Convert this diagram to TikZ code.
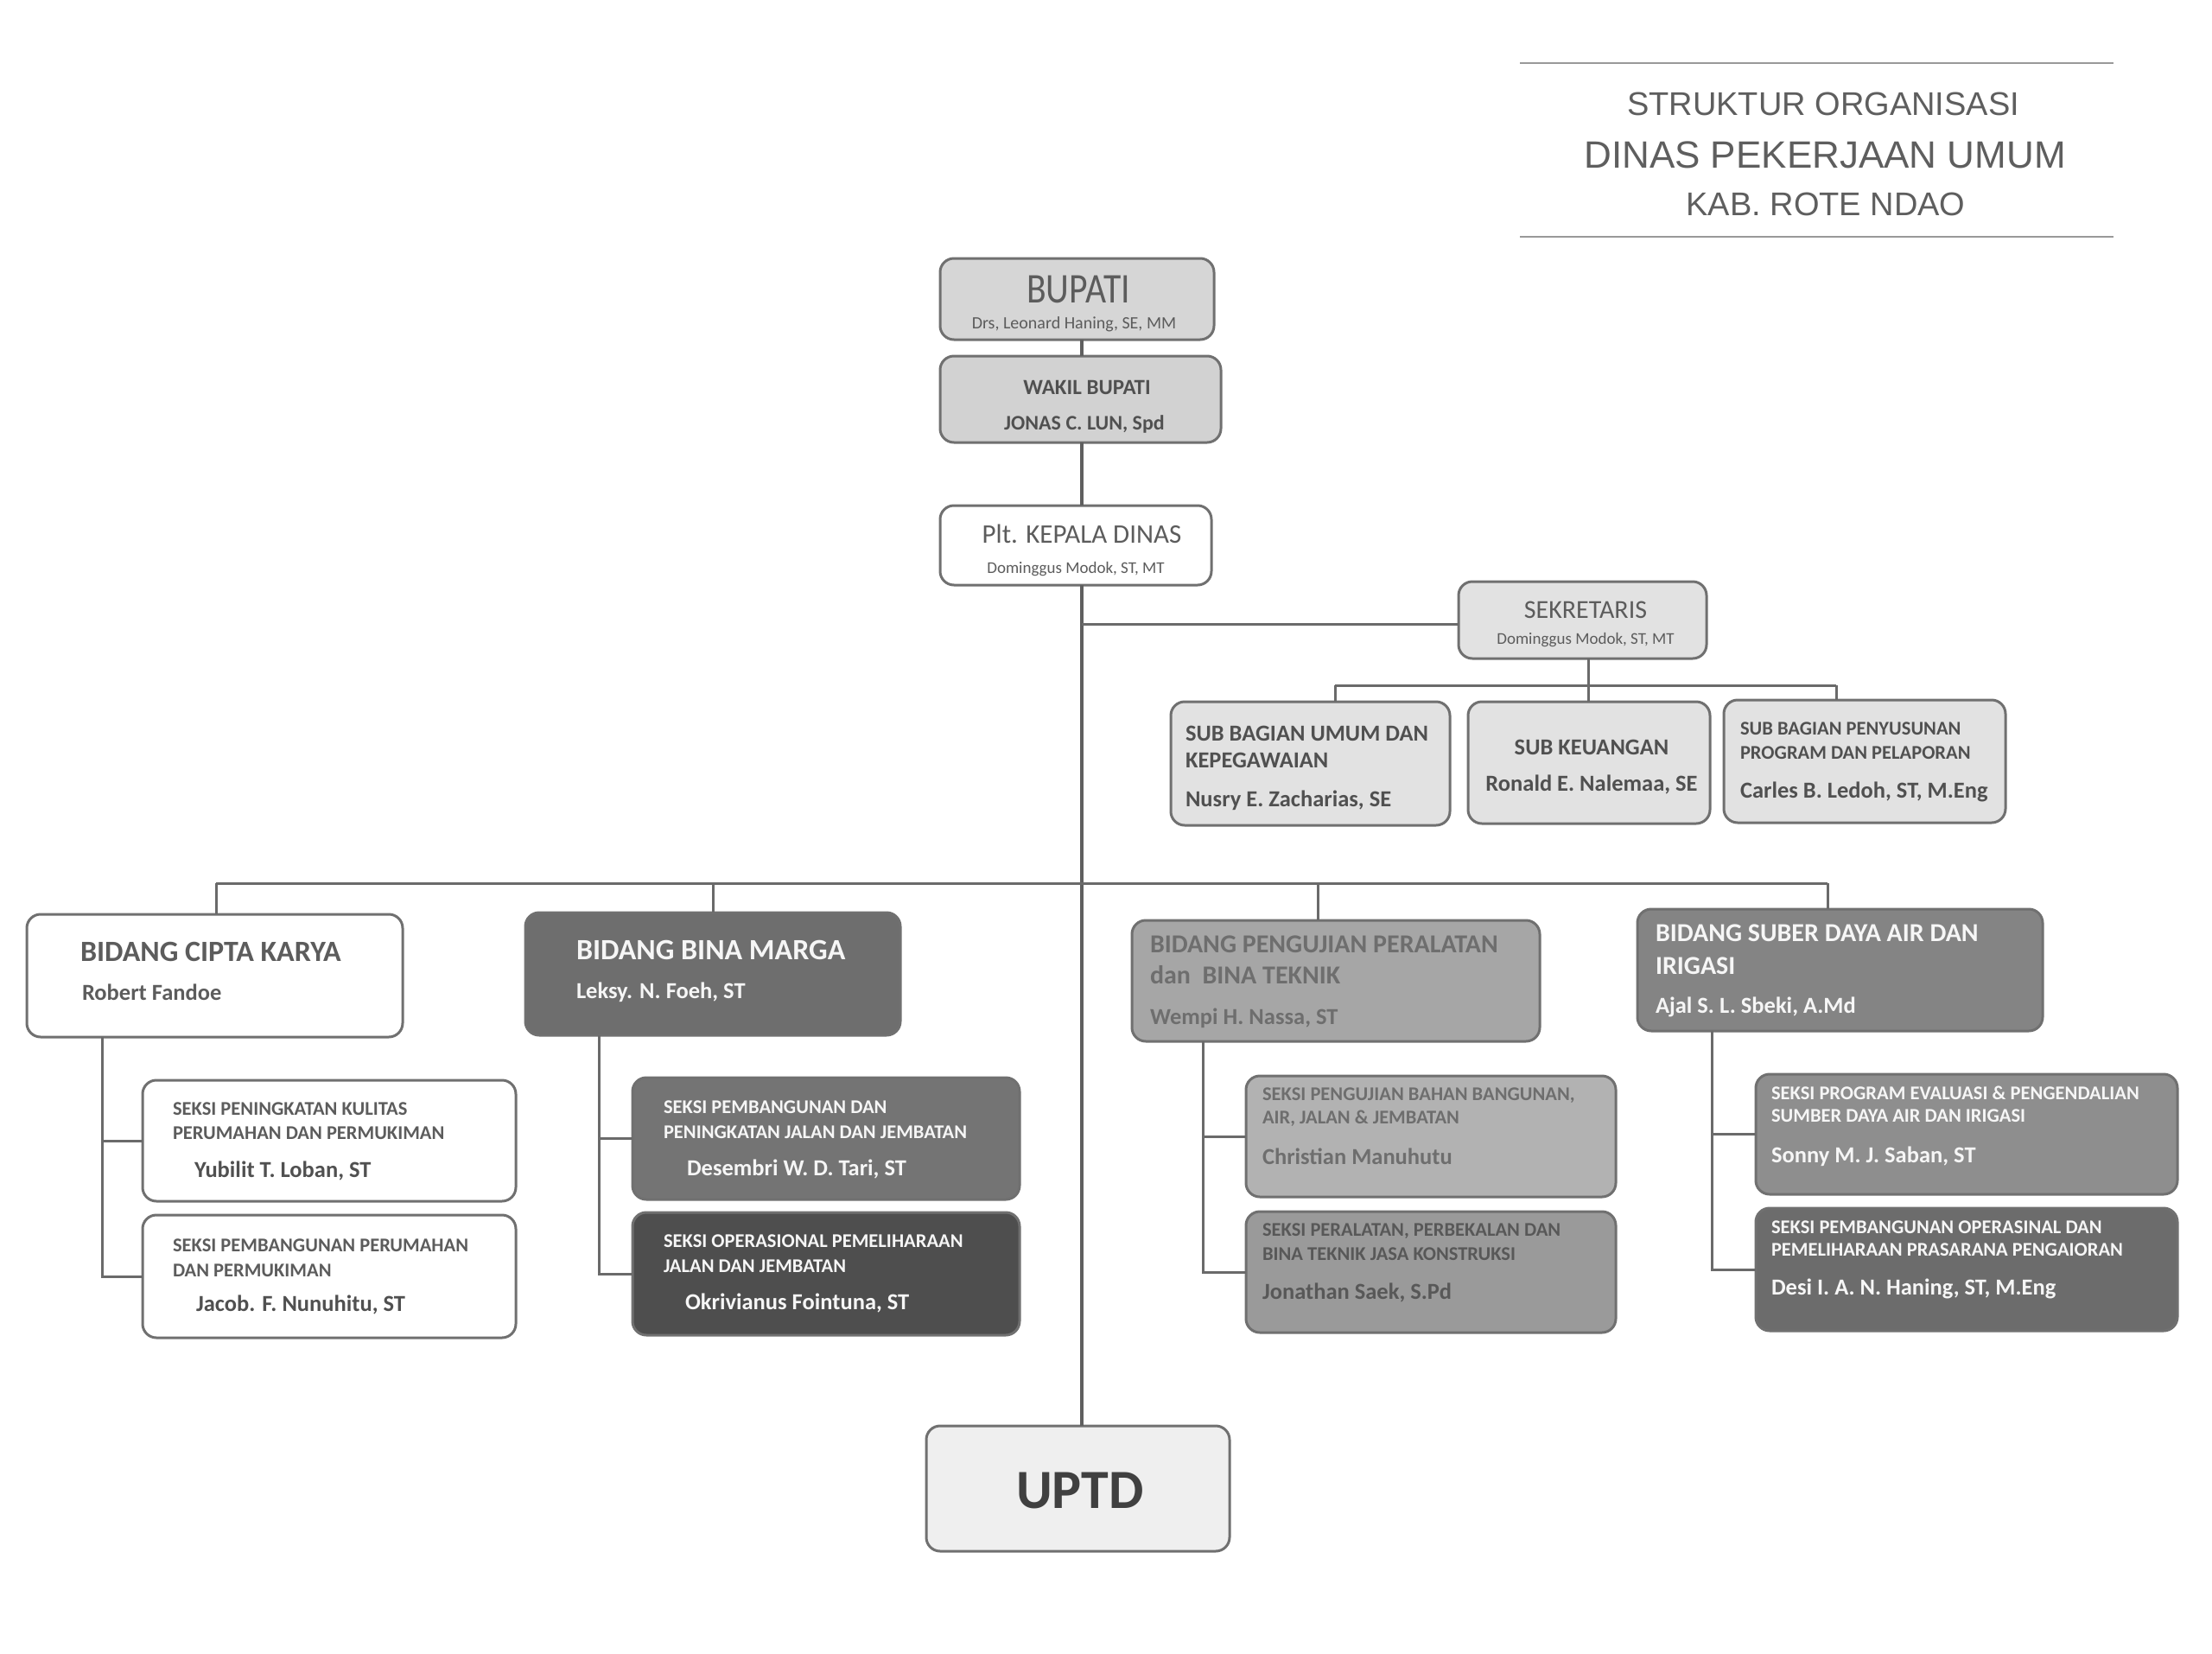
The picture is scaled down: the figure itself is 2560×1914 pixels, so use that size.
\documentclass[tikz,border=0pt]{standalone}
\usepackage{fontspec}
\setmainfont{Carlito}
\newfontfamily\titlefont{Liberation Sans}
\newfontfamily\narrowfont[FakeStretch=0.85]{Carlito}
\newcommand\myfs[1]{\fontsize{#1}{#1}\selectfont}
\definecolor{bordercol}{HTML}{707070}
\definecolor{linecol}{HTML}{6A6A6A}
\definecolor{titlecol}{HTML}{5E5E5E}
\definecolor{fBupati}{HTML}{D6D6D6}
\definecolor{fWakil}{HTML}{D2D2D2}
\definecolor{fSek}{HTML}{E2E2E2}
\definecolor{fSub}{HTML}{E2E2E2}
\definecolor{fBM}{HTML}{6E6E6E}
\definecolor{fBMa}{HTML}{747474}
\definecolor{fBMb}{HTML}{4E4E4E}
\definecolor{fPeng}{HTML}{A6A6A6}
\definecolor{fPenga}{HTML}{B2B2B2}
\definecolor{fPengb}{HTML}{9A9A9A}
\definecolor{fSub2}{HTML}{848484}
\definecolor{fSuba}{HTML}{8E8E8E}
\definecolor{fSubb}{HTML}{6C6C6C}
\definecolor{fUptd}{HTML}{EFEFEF}
\definecolor{tDark}{HTML}{505050}
\definecolor{tMid}{HTML}{5C5C5C}
\definecolor{tPeng}{HTML}{6E6E6E}
\definecolor{tWhite}{HTML}{F6F6F6}
\definecolor{tUptd}{HTML}{404040}
\newcommand\orgbox[6]{\node[box,#2,anchor=north west,minimum width={(#5-#3)*1pt},minimum height={(#6-#4)*1pt}] (#1) at (#3,#4) {};}
\newcommand\orgtext[5]{\node[txt,#2] (#1) at (#3,#4) {#5};}
\begin{document}
\begin{tikzpicture}[x={(1pt,0)},y={(0,-1pt)},
  box/.style={draw=bordercol,line width=3pt,rounded corners=16pt,inner sep=0pt,outer sep=0pt},
  txt/.style={inner sep=0pt,outer sep=0pt,anchor=base west},
  ctr/.style={anchor=base},
  conn/.style={draw=linecol,line width=3pt},
  mainln/.style={draw=linecol!90!black,line width=4.5pt},
  hd/.style={font=\myfs{22.5}\bfseries},
  nm/.style={font=\myfs{26.5}\bfseries},
  bt/.style={font=\myfs{34}\bfseries},
  bs/.style={font=\myfs{30}\bfseries}]
\fill[white] (0,0) rectangle (2560,1914);
\useasboundingbox (0,0) rectangle (2560,1914);

% title
\draw[draw=gray!80,line width=1.5pt] (1759,73) coordinate (tl1) -- (2446,73) coordinate (tr1);
\draw[draw=gray!80,line width=1.5pt] (1759,274) coordinate (tl2) -- (2446,274) coordinate (tr2);
\orgtext{t1}{ctr,text=titlecol,font=\titlefont\myfs{38}}{2110}{133}{STRUKTUR ORGANISASI}
\orgtext{t2}{ctr,text=titlecol,font=\titlefont\myfs{44}}{2112}{194}{DINAS PEKERJAAN UMUM}
\orgtext{t3}{ctr,text=titlecol,font=\titlefont\myfs{38}}{2113}{249}{KAB. ROTE NDAO}

% boxes
\orgbox{bupati}{fill=fBupati}{1088}{299}{1405}{393}
\orgbox{wakil}{fill=fWakil}{1088}{412}{1413}{512}
\orgbox{plt}{fill=white}{1088}{585}{1402}{677}
\orgbox{sek}{fill=fSek}{1688}{673}{1975}{762}
\orgbox{subumum}{fill=fSub}{1355}{812}{1678}{955}
\orgbox{subkeu}{fill=fSub}{1699}{812}{1979}{953}
\orgbox{subprog}{fill=fSub}{1995}{810}{2321}{952}
\orgbox{cipta}{fill=white}{31}{1058}{466}{1200}
\orgbox{bm}{fill=fBM}{608}{1056}{1042}{1198}
\orgbox{peng}{fill=fPeng}{1310}{1065}{1782}{1205}
\orgbox{suber}{fill=fSub2}{1895}{1052}{2364}{1193}
\orgbox{ciptaA}{fill=white}{165}{1250}{597}{1390}
\orgbox{ciptaB}{fill=white}{165}{1406}{597}{1548}
\orgbox{bmA}{fill=fBMa}{732}{1247}{1180}{1388}
\orgbox{bmB}{fill=fBMb}{732}{1403}{1180}{1545}
\orgbox{pengA}{fill=fPenga}{1442}{1245}{1870}{1385}
\orgbox{pengB}{fill=fPengb}{1442}{1402}{1870}{1542}
\orgbox{suberA}{fill=fSuba}{2032}{1243}{2520}{1382}
\orgbox{suberB}{fill=fSubb}{2032}{1398}{2520}{1540}
\orgbox{uptd}{fill=fUptd}{1072}{1650}{1423}{1795}

% connectors
\coordinate (mainx) at (1252,0);
\draw[mainln] (bupati.south -| mainx) -- (wakil.north -| mainx);
\draw[mainln] (wakil.south -| mainx) -- (plt.north -| mainx);
\draw[mainln] (plt.south -| mainx) -- (uptd.north -| mainx);
\coordinate (sekj) at (1252,722);
\draw[conn] (sekj) -- (sekj -| sek.west);
\coordinate (sbL) at (1545,793);
\coordinate (sbM) at (1838,793);
\coordinate (sbR) at (2125,793);
\draw[conn] (sbL) -- (sbR);
\draw[conn] (sek.south -| sbM) -- (sbM);
\draw[conn] (sbL) -- (sbL |- subumum.north);
\draw[conn] (sbM) -- (sbM |- subkeu.north);
\draw[conn] (sbR) -- (sbR |- subprog.north);
\coordinate (bbL) at (250,1022);
\coordinate (bbB) at (825,1022);
\coordinate (bbP) at (1525,1022);
\coordinate (bbR) at (2115,1022);
\draw[conn] (bbL) -- (bbR);
\draw[conn] (bbL) -- (bbL |- cipta.north);
\draw[conn] (bbB) -- (bbB |- bm.north);
\draw[conn] (bbP) -- (bbP |- peng.north);
\draw[conn] (bbR) -- (bbR |- suber.north);
\coordinate (cv) at (118,0);
\draw[conn] (cipta.south -| cv) -- (ciptaB.west -| cv) -- (ciptaB.west);
\draw[conn] (ciptaA.west -| cv) -- (ciptaA.west);
\coordinate (bv) at (693,0);
\draw[conn] (bm.south -| bv) -- (bmB.west -| bv) -- (bmB.west);
\draw[conn] (bmA.west -| bv) -- (bmA.west);
\coordinate (pv) at (1392,0);
\draw[conn] (peng.south -| pv) -- (pengB.west -| pv) -- (pengB.west);
\draw[conn] (pengA.west -| pv) -- (pengA.west);
\coordinate (rv) at (1981,0);
\draw[conn] (suber.south -| rv) -- (suberB.west -| rv) -- (suberB.west);
\draw[conn] (suberA.west -| rv) -- (suberA.west);

% texts top
\orgtext{bupT}{ctr,text=tMid,font=\narrowfont\myfs{49}}{1248}{350}{BUPATI}
\orgtext{bupN}{ctr,text=tMid,font=\myfs{20}}{1243}{380}{Drs, Leonard Haning, SE, MM}
\orgtext{wakT}{ctr,text=tDark,font=\myfs{25}\bfseries}{1258}{456}{WAKIL BUPATI}
\orgtext{wakN}{ctr,text=tDark,font=\myfs{24}\bfseries}{1255}{497}{JONAS C. LUN, Spd}
\orgtext{pltT}{ctr,text=tMid,font=\myfs{31}}{1252}{628}{Plt. KEPALA DINAS}
\orgtext{pltN}{ctr,text=tMid,font=\myfs{19}}{1245}{663}{Dominggus Modok, ST, MT}
\orgtext{sekT}{ctr,text=tMid,font=\myfs{30}}{1835}{715}{SEKRETARIS}
\orgtext{sekN}{ctr,text=tMid,font=\myfs{19}}{1835}{745}{Dominggus Modok, ST, MT}
\orgtext{suT1}{hd,text=tDark,font=\myfs{26.5}\bfseries}{1372}{857}{SUB BAGIAN UMUM DAN}
\orgtext{suT2}{hd,text=tDark,font=\myfs{26.5}\bfseries}{1372}{888}{KEPEGAWAIAN}
\orgtext{suN}{nm,text=tDark}{1372}{933}{Nusry E. Zacharias, SE}
\orgtext{skT}{nm,ctr,text=tDark}{1842}{873}{SUB KEUANGAN}
\orgtext{skN}{nm,ctr,text=tDark}{1842}{915}{Ronald E. Nalemaa, SE}
\orgtext{spT1}{hd,text=tDark}{2014}{850}{SUB BAGIAN PENYUSUNAN}
\orgtext{spT2}{hd,text=tDark}{2014}{878}{PROGRAM DAN PELAPORAN}
\orgtext{spN}{nm,text=tDark}{2014}{923}{Carles B. Ledoh, ST, M.Eng}

% bidang cipta karya
\orgtext{ckT}{bt,text=tMid}{93}{1112}{BIDANG CIPTA KARYA}
\orgtext{ckN}{nm,text=tMid}{95}{1157}{Robert Fandoe}
\orgtext{ckA1}{hd,text=tMid}{200}{1290}{SEKSI PENINGKATAN KULITAS}
\orgtext{ckA2}{hd,text=tMid}{200}{1318}{PERUMAHAN DAN PERMUKIMAN}
\orgtext{ckAN}{nm,text=tDark}{225}{1362}{Yubilit T. Loban, ST}
\orgtext{ckB1}{hd,text=tMid}{200}{1448}{SEKSI PEMBANGUNAN PERUMAHAN}
\orgtext{ckB2}{hd,text=tMid}{200}{1477}{DAN PERMUKIMAN}
\orgtext{ckBN}{nm,text=tDark}{227}{1517}{Jacob. F. Nunuhitu, ST}

% bidang bina marga
\orgtext{bmT}{bt,text=tWhite}{667}{1110}{BIDANG BINA MARGA}
\orgtext{bmN}{nm,text=tWhite}{667}{1155}{Leksy. N. Foeh, ST}
\orgtext{bmA1}{hd,text=tWhite}{768}{1288}{SEKSI PEMBANGUNAN DAN}
\orgtext{bmA2}{hd,text=tWhite}{768}{1317}{PENINGKATAN JALAN DAN JEMBATAN}
\orgtext{bmAN}{nm,text=tWhite}{795}{1360}{Desembri W. D. Tari, ST}
\orgtext{bmB1}{hd,text=tWhite}{768}{1443}{SEKSI OPERASIONAL PEMELIHARAAN}
\orgtext{bmB2}{hd,text=tWhite}{768}{1472}{JALAN DAN JEMBATAN}
\orgtext{bmBN}{nm,text=tWhite}{793}{1515}{Okrivianus Fointuna, ST}

% bidang pengujian
\orgtext{pgT1}{bs,text=tPeng}{1331}{1102}{BIDANG PENGUJIAN PERALATAN}
\orgtext{pgT2}{bs,text=tPeng}{1331}{1138}{dan\ \ BINA TEKNIK}
\orgtext{pgN}{nm,text=tPeng}{1331}{1185}{Wempi H. Nassa, ST}
\orgtext{pgA1}{hd,text=tPeng}{1461}{1273}{SEKSI PENGUJIAN BAHAN BANGUNAN,}
\orgtext{pgA2}{hd,text=tPeng}{1461}{1300}{AIR, JALAN \& JEMBATAN}
\orgtext{pgAN}{nm,text=tPeng}{1461}{1347}{Christian Manuhutu}
\orgtext{pgB1}{hd,text=tPeng!80!black}{1461}{1430}{SEKSI PERALATAN, PERBEKALAN DAN}
\orgtext{pgB2}{hd,text=tPeng!80!black}{1461}{1458}{BINA TEKNIK JASA KONSTRUKSI}
\orgtext{pgBN}{nm,text=tPeng!80!black}{1461}{1503}{Jonathan Saek, S.Pd}

% bidang sumber daya air
\orgtext{sbT1}{bs,text=tWhite}{1916}{1089}{BIDANG SUBER DAYA AIR DAN}
\orgtext{sbT2}{bs,text=tWhite}{1916}{1127}{IRIGASI}
\orgtext{sbN}{nm,text=tWhite}{1916}{1172}{Ajal S. L. Sbeki, A.Md}
\orgtext{sbA1}{hd,text=tWhite}{2050}{1272}{SEKSI PROGRAM EVALUASI \& PENGENDALIAN}
\orgtext{sbA2}{hd,text=tWhite}{2050}{1298}{SUMBER DAYA AIR DAN IRIGASI}
\orgtext{sbAN}{nm,text=tWhite}{2050}{1345}{Sonny M. J. Saban, ST}
\orgtext{sbB1}{hd,text=tWhite}{2050}{1427}{SEKSI PEMBANGUNAN OPERASINAL DAN}
\orgtext{sbB2}{hd,text=tWhite}{2050}{1453}{PEMELIHARAAN PRASARANA PENGAIORAN}
\orgtext{sbBN}{nm,text=tWhite}{2050}{1498}{Desi I. A. N. Haning, ST, M.Eng}

% uptd
\orgtext{upT}{ctr,text=tUptd,font=\myfs{64}\bfseries}{1250}{1745}{UPTD}
\end{tikzpicture}
\end{document}
